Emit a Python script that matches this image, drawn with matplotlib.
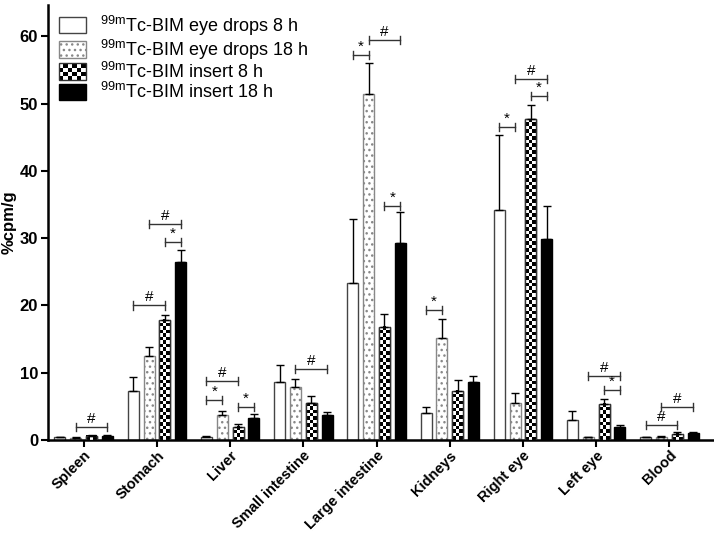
import numpy as np
import matplotlib
matplotlib.use("Agg")
import matplotlib.pyplot as plt
from matplotlib.patches import Rectangle
from matplotlib.legend_handler import HandlerBase

plt.rcParams['font.family'] = ['Liberation Sans', 'DejaVu Sans']
plt.rcParams['mathtext.fontset'] = 'custom'
plt.rcParams['mathtext.rm'] = 'Liberation Sans'
plt.rcParams['hatch.color'] = '#777777'
plt.rcParams['hatch.linewidth'] = 1.0

organs = ['Spleen', 'Stomach', 'Liver', 'Small intestine', 'Large intestine',
          'Kidneys', 'Right eye', 'Left eye', 'Blood']
drops_8h = [0.4, 7.3, 0.5, 8.6, 23.4, 4.0, 34.2, 3.0, 0.4]
drops_8h_sd = [0.1, 2.1, 0.1, 2.6, 9.5, 0.9, 11.1, 1.3, 0.1]
drops_18h = [0.3, 12.5, 3.7, 7.9, 51.4, 15.2, 5.5, 0.4, 0.5]
drops_18h_sd = [0.1, 1.3, 0.6, 1.1, 4.6, 2.8, 1.5, 0.1, 0.1]
insert_8h = [0.6, 17.9, 2.0, 5.5, 16.8, 7.3, 47.7, 5.4, 0.9]
insert_8h_sd = [0.1, 0.7, 0.4, 1.1, 2.0, 1.6, 2.1, 0.7, 0.3]
insert_18h = [0.6, 26.5, 3.3, 3.7, 29.3, 8.6, 29.9, 1.9, 1.0]
insert_18h_sd = [0.1, 1.8, 0.5, 0.5, 4.6, 0.9, 4.9, 0.3, 0.2]

labels = [r'$^{\mathregular{99m}}$Tc-BIM eye drops 8 h', r'$^{\mathregular{99m}}$Tc-BIM eye drops 18 h',
          r'$^{\mathregular{99m}}$Tc-BIM insert 8 h', r'$^{\mathregular{99m}}$Tc-BIM insert 18 h']

# significance brackets: (organ, group from, group to, height, symbol)
brackets = [(0, 1, 3, 1.9, '#'),
            (1, 0, 2, 20.0, '#'), (1, 1, 3, 32.1, '#'), (1, 2, 3, 29.5, '*'),
            (2, 0, 2, 8.8, '#'), (2, 0, 1, 6.0, '*'), (2, 2, 3, 4.9, '*'),
            (3, 1, 3, 10.5, '#'),
            (4, 0, 1, 57.3, '*'), (4, 1, 3, 59.4, '#'), (4, 2, 3, 34.8, '*'),
            (5, 0, 1, 19.3, '*'),
            (6, 0, 1, 46.6, '*'), (6, 1, 3, 53.7, '#'), (6, 2, 3, 51.2, '*'),
            (7, 1, 3, 9.5, '#'), (7, 2, 3, 7.4, '*'),
            (8, 0, 2, 2.2, '#'), (8, 1, 3, 4.9, '#')]


class CheckerHandler(HandlerBase):
    def create_artists(self, legend, orig_handle, xdescent, ydescent,
                       width, height, fontsize, trans):
        arts = [Rectangle((-xdescent, -ydescent), width, height,
                          fc='white', ec='none', transform=trans)]
        nx, ny = 6, 4
        for i in range(nx):
            for j in range(ny):
                if (i + j) % 2 == 0:
                    arts.append(Rectangle((-xdescent + i * width / nx, -ydescent + j * height / ny),
                                          width / nx, height / ny, fc='black', ec='none',
                                          transform=trans))
        arts.append(Rectangle((-xdescent, -ydescent), width, height,
                              fc='none', ec='#333333', lw=1, transform=trans))
        return arts


fig = plt.figure(figsize=(7.14, 5.34), dpi=100)
ax = fig.add_axes([0.067, 0.176, 0.932, 0.815])

x = np.arange(len(organs))
step = 0.216
w = 0.15
offs = np.array([-1.5, -0.5, 0.5, 1.5]) * step

vals = [drops_8h, drops_18h, insert_8h, insert_18h]
sds = [drops_8h_sd, drops_18h_sd, insert_8h_sd, insert_18h_sd]

b0 = ax.bar(x + offs[0], drops_8h, w, color='white', edgecolor='#444444', lw=1, zorder=2)
b1 = ax.bar(x + offs[1], drops_18h, w, color='white', edgecolor='#888888', lw=1,
            hatch='...', zorder=2)
b2 = ax.bar(x + offs[2], insert_8h, w, color='white', edgecolor='#333333', lw=1, zorder=2)
b3 = ax.bar(x + offs[3], insert_18h, w, color='black', edgecolor='black', lw=1, zorder=2)

# checkerboard fill for the insert 8 h bars
cell = 0.52
for xi, v in zip(x + offs[2], insert_8h):
    ny = max(1, int(round(v / cell)))
    grid = (np.add.outer(np.arange(ny), np.arange(3)) % 2).astype(float)
    ax.imshow(grid, cmap='gray', vmin=0, vmax=1, extent=[xi - w / 2, xi + w / 2, 0, v],
              aspect='auto', interpolation='nearest', zorder=3, origin='lower')
    ax.add_patch(Rectangle((xi - w / 2, 0), w, v, fc='none', ec='#333333', lw=1, zorder=3.5))

for k in range(4):
    ax.errorbar(x + offs[k], vals[k], yerr=[np.zeros(len(organs)), sds[k]], fmt='none',
                ecolor='black', elinewidth=1, capsize=3, capthick=1, zorder=5)

for org, a, b, h, sym in brackets:
    xa = org + offs[a]
    xb = org + offs[b]
    ax.plot([xa, xb], [h, h], color='#333333', lw=1, zorder=6)
    ax.plot([xa, xa], [h - 0.6, h + 0.6], color='#333333', lw=1, zorder=6)
    ax.plot([xb, xb], [h - 0.6, h + 0.6], color='#333333', lw=1, zorder=6)
    ax.text((xa + xb) / 2, h + 0.15, sym, ha='center', va='bottom', fontsize=11, zorder=6)

ax.set_xlim(-0.49, 8.6)
ax.set_ylim(0, 64.7)
ax.set_yticks([0, 10, 20, 30, 40, 50, 60])
ax.set_xticks(x)
ax.set_xticklabels(organs, rotation=45, ha='right', rotation_mode='anchor',
                   fontweight='bold', fontsize=10.5)
for t in ax.get_yticklabels():
    t.set_fontweight('bold')
    t.set_fontsize(12)
ax.set_ylabel('%cpm/g', fontweight='bold', fontsize=12, labelpad=2)

for s in ['top', 'right']:
    ax.spines[s].set_visible(False)
for s in ['left', 'bottom']:
    ax.spines[s].set_linewidth(1.8)
ax.tick_params(direction='out', length=5, width=1.5)
ax.tick_params(axis='y', pad=2)
ax.tick_params(axis='x', pad=1)

leg = ax.legend([b0, b1, b2, b3], labels, handler_map={b2: CheckerHandler()},
                loc='upper left', bbox_to_anchor=(0.0, 1.005), frameon=False,
                fontsize=13, handlelength=1.5, handleheight=1.0,
                labelspacing=0.0, handletextpad=0.8, borderaxespad=0.2)

fig.savefig('out.png', dpi=100)
